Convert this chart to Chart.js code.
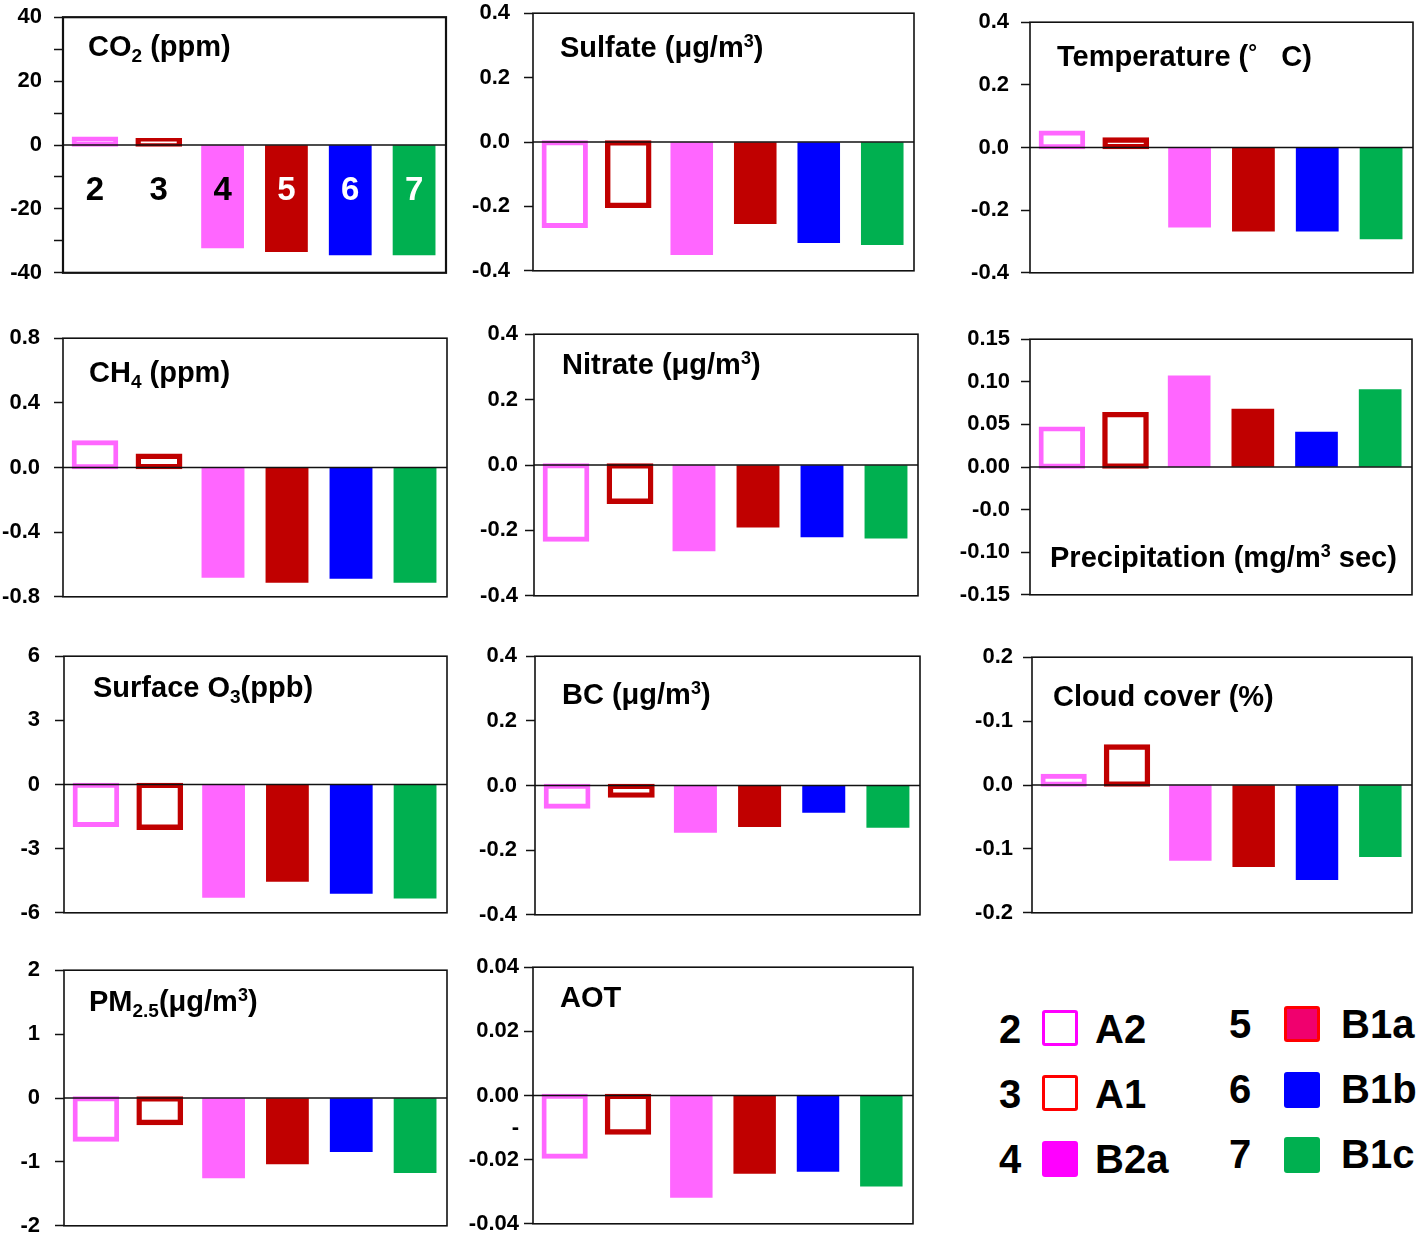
<!DOCTYPE html>
<html><head><meta charset="utf-8">
<script src="https://cdn.jsdelivr.net/npm/chart.js@4"></script>
<style>
html,body{margin:0;padding:0;background:#fff;}
body{width:1418px;height:1236px;position:relative;overflow:hidden;font-family:'Liberation Sans',Arial,sans-serif;}
canvas{position:absolute;}
.title{position:absolute;font-weight:bold;font-size:29px;line-height:29px;white-space:pre;color:#000;}
.title sub{font-size:19px;vertical-align:-6px;line-height:0;}
.title sup{font-size:18px;vertical-align:10px;line-height:0;}
.leg{position:absolute;font-weight:bold;font-size:40px;line-height:40px;color:#000;}
.lbox{position:absolute;box-sizing:border-box;border-radius:3px;}
</style></head><body>
<script>
// ---------- data ----------
const categories = ['A2','A1','B2a','B1a','B1b','B1c'];
const scenarioNumbers = ['2','3','4','5','6','7'];

const co2Values         = [2.0, 1.5, -32.2, -33.4, -34.4, -34.4];
const sulfateValues     = [-0.26, -0.198, -0.35, -0.254, -0.313, -0.319];
const temperatureValues = [0.047, 0.025, -0.254, -0.267, -0.267, -0.292];
const ch4Values         = [0.155, 0.072, -0.68, -0.711, -0.686, -0.711];
const nitrateValues     = [-0.228, -0.112, -0.263, -0.19, -0.22, -0.224];
const precipValues      = [0.045, 0.062, 0.107, 0.068, 0.041, 0.091];
const o3Values          = [-1.88, -2.02, -5.28, -4.53, -5.09, -5.32];
const bcValues          = [-0.065, -0.031, -0.145, -0.127, -0.083, -0.13];
const cloudValues       = [0.014, 0.06, -0.118, -0.128, -0.148, -0.112];
const pm25Values        = [-0.65, -0.39, -1.25, -1.03, -0.84, -1.17];
const aotValues         = [-0.019, -0.0115, -0.0318, -0.0243, -0.0237, -0.0283];

// tick values and labels (as printed in the figure)
const co2Ticks      = [40, 30, 20, 10, 0, -10, -20, -30, -40];
const co2TickLabels = ['40', '', '20', '', '0', '', '-20', '', '-40'];
const sulfateTicks      = [0.4, 0.2, 0, -0.2, -0.4];
const sulfateTickLabels = ['0.4', '0.2', '0.0', '-0.2', '-0.4'];
const temperatureTicks      = [0.4, 0.2, 0, -0.2, -0.4];
const temperatureTickLabels = ['0.4', '0.2', '0.0', '-0.2', '-0.4'];
const ch4Ticks      = [0.8, 0.4, 0, -0.4, -0.8];
const ch4TickLabels = ['0.8', '0.4', '0.0', '-0.4', '-0.8'];
const nitrateTicks      = [0.4, 0.2, 0, -0.2, -0.4];
const nitrateTickLabels = ['0.4', '0.2', '0.0', '-0.2', '-0.4'];
const precipTicks      = [0.15, 0.10, 0.05, 0, -0.05, -0.10, -0.15];
const precipTickLabels = ['0.15', '0.10', '0.05', '0.00', '-0.0', '-0.10', '-0.15'];
const o3Ticks      = [6, 3, 0, -3, -6];
const o3TickLabels = ['6', '3', '0', '-3', '-6'];
const bcTicks      = [0.4, 0.2, 0, -0.2, -0.4];
const bcTickLabels = ['0.4', '0.2', '0.0', '-0.2', '-0.4'];
const cloudTicks      = [0.2, 0.1, 0, -0.1, -0.2];
const cloudTickLabels = ['0.2', '-0.1', '0.0', '-0.1', '-0.2'];
const pm25Ticks      = [2, 1, 0, -1, -2];
const pm25TickLabels = ['2', '1', '0', '-1', '-2'];
const aotTicks      = [0.04, 0.02, 0, -0.01, -0.02, -0.04];
const aotTickLabels = ['0.04', '0.02', '0.00', '-', '-0.02', '-0.04'];

const legendNumbers = ['2','3','4','5','6','7'];
const legendNames   = ['A2','A1','B2a','B1a','B1b','B1c'];

// ---------- styles ----------
const barFill   = ['rgba(0,0,0,0)', 'rgba(0,0,0,0)', '#FF66FF', '#C00000', '#0000FF', '#00B050'];
const barBorder = ['#FF66FF', '#C00000', '#FF66FF', '#C00000', '#0000FF', '#00B050'];
const barBorderW = [0.5, 0.8, 0, 0, 0, 0];
const barInflate = [2.2, 2.3, 0.33, 0.33, 0.33, 0.33];
const numberColors = ['#000', '#000', '#000', '#fff', '#fff', '#fff'];
const AXW = 84;

const panels = [
  {values: co2Values, ticks: co2Ticks, labels: co2TickLabels, min: -40, max: 40, box: [63, 17, 446, 273], gap: 21, frame: 2.2, minor: true, numbers: true,
   title: 'CO<sub>2</sub> (ppm)', tpos: [88, 32]},
  {values: sulfateValues, ticks: sulfateTicks, labels: sulfateTickLabels, min: -0.4, max: 0.4, box: [533, 13, 914, 271], gap: 23,
   title: 'Sulfate (\u03BCg/m<sup>3</sup>)', tpos: [560, 33]},
  {values: temperatureValues, ticks: temperatureTicks, labels: temperatureTickLabels, min: -0.4, max: 0.4, box: [1030, 22, 1413, 273], gap: 21,
   title: 'Temperature (<span style="font-size:22px;vertical-align:6px;">\u00B0</span>   C)', tpos: [1057, 38]},
  {values: ch4Values, ticks: ch4Ticks, labels: ch4TickLabels, min: -0.8, max: 0.8, box: [63, 338, 447, 597], gap: 23,
   title: 'CH<sub>4</sub> (ppm)', tpos: [89, 358]},
  {values: nitrateValues, ticks: nitrateTicks, labels: nitrateTickLabels, min: -0.4, max: 0.4, box: [534, 334, 918, 596], gap: 16,
   title: 'Nitrate (\u03BCg/m<sup>3</sup>)', tpos: [562, 350]},
  {values: precipValues, ticks: precipTicks, labels: precipTickLabels, min: -0.15, max: 0.15, box: [1030, 339, 1412, 595], gap: 20,
   title: 'Precipitation (mg/m<sup>3</sup> sec)', tpos: [1050, 543]},
  {values: o3Values, ticks: o3Ticks, labels: o3TickLabels, min: -6, max: 6, box: [64, 656, 447, 913], gap: 24,
   title: 'Surface O<sub>3</sub>(ppb)', tpos: [93, 673]},
  {values: bcValues, ticks: bcTicks, labels: bcTickLabels, min: -0.4, max: 0.4, box: [535, 656, 920, 915], gap: 18,
   title: 'BC (\u03BCg/m<sup>3</sup>)', tpos: [562, 680]},
  {values: cloudValues, ticks: cloudTicks, labels: cloudTickLabels, min: -0.2, max: 0.2, box: [1032, 657, 1412, 913], gap: 19,
   title: 'Cloud cover (%)', tpos: [1053, 682]},
  {values: pm25Values, ticks: pm25Ticks, labels: pm25TickLabels, min: -2, max: 2, box: [64, 970, 447, 1226], gap: 24,
   title: 'PM<sub>2.5</sub>(\u03BCg/m<sup>3</sup>)', tpos: [89, 987]},
  {values: aotValues, ticks: aotTicks, labels: aotTickLabels, min: -0.04, max: 0.04, box: [533, 967, 913, 1224], gap: 14,
   title: 'AOT', tpos: [560, 983]}
];

const framePlugin = {
  id: 'frame',
  afterDatasetsDraw(chart, args, opts) {
    const {ctx, chartArea: a, scales: {x, y}} = chart;
    ctx.save();
    ctx.strokeStyle = '#111';
    ctx.lineWidth = 1.6;
    const y0 = y.getPixelForValue(0);
    ctx.beginPath(); ctx.moveTo(a.left, y0); ctx.lineTo(a.right, y0); ctx.stroke();
    ctx.lineWidth = opts.width || 1.6;
    ctx.strokeRect(a.left, a.top, a.width, a.height);
    if (opts.numbers) {
      ctx.font = 'bold 33px "Liberation Sans", Arial, sans-serif';
      ctx.textAlign = 'center'; ctx.textBaseline = 'middle';
      scenarioNumbers.forEach((n, i) => {
        ctx.fillStyle = numberColors[i];
        ctx.fillText(n, x.getPixelForValue(i), y.getPixelForValue(opts.numberLevel));
      });
    }
    ctx.restore();
  }
};

panels.forEach(p => {
  const [l, t, r, b] = p.box;
  const cv = document.createElement('canvas');
  const w = r - l + AXW + 4, h = b - t + 40;
  cv.width = w; cv.height = h;
  cv.style.left = (l - AXW) + 'px'; cv.style.top = (t - 20) + 'px';
  cv.style.width = w + 'px'; cv.style.height = h + 'px';
  document.body.appendChild(cv);

  const labelMap = new Map(p.ticks.map((v, i) => [v.toFixed(5), p.labels[i]]));
  const lab = v => labelMap.has(Number(v).toFixed(5)) ? labelMap.get(Number(v).toFixed(5)) : '';

  const chart = new Chart(cv, {
    type: 'bar',
    data: {labels: categories, datasets: [{
      data: p.values, backgroundColor: barFill, borderColor: barBorder, borderWidth: barBorderW,
      inflateAmount: barInflate,
      borderSkipped: false, barPercentage: 0.66, categoryPercentage: 1
    }]},
    options: {
      responsive: false, maintainAspectRatio: false, animation: false, devicePixelRatio: 1,
      layout: {padding: {top: 0, bottom: 0, left: 0, right: 4}},
      plugins: {legend: {display: false}, tooltip: {enabled: false},
        frame: {width: p.frame || 1.6, numbers: !!p.numbers, numberLevel: -14.5}},
      scales: {
        x: {display: false},
        y: {
          min: p.min, max: p.max,
          afterFit(s) { s.width = AXW; },
          afterBuildTicks(s) { s.ticks = p.ticks.slice().sort((a, b) => a - b).map(v => ({value: v})); },
          ticks: {autoSkip: false, callback: v => lab(v), color: '#000', padding: p.gap - 9,
                  font: {family: '"Liberation Sans", Arial, sans-serif', weight: 'bold', size: 22}},
          grid: {drawOnChartArea: false, drawTicks: true, tickLength: 9, tickWidth: 1.5,
                 tickColor: ctx => {
                   const L = lab(ctx.tick ? ctx.tick.value : 0);
                   if (L === '-') return 'rgba(0,0,0,0)';
                   if (L === '' && !p.minor) return 'rgba(0,0,0,0)';
                   return '#111';
                 }},
          border: {display: false}
        }
      }
    },
    plugins: [framePlugin]
  });

  // align the chart area exactly with the panel box
  const ca = chart.chartArea;
  const topOff = ca.top, botOff = h - ca.bottom;
  const newH = Math.round((b - t) + topOff + botOff);
  chart.resize(w, newH);
  const ca2 = chart.chartArea;
  cv.style.top = (t - ca2.top) + 'px';
  cv.style.left = (l - ca2.left) + 'px';

  const d = document.createElement('div');
  d.className = 'title';
  d.innerHTML = p.title;
  d.style.left = p.tpos[0] + 'px'; d.style.top = p.tpos[1] + 'px';
  document.body.appendChild(d);
});

// ---------- legend ----------
const legendLayout = [
  {num: [999, 1009], box: [1042, 1010], name: [1095, 1009], style: 'border:3.5px solid #FF00FF;background:#fff;'},
  {num: [999, 1074], box: [1042, 1075], name: [1095, 1074], style: 'border:3.5px solid #FF0000;background:#fff;'},
  {num: [999, 1139], box: [1042, 1141], name: [1095, 1139], style: 'background:#FF00FF;'},
  {num: [1229, 1004], box: [1284, 1006], name: [1341, 1004], style: 'border:3.5px solid #FF0000;background:#F0006E;'},
  {num: [1229, 1069], box: [1284, 1072], name: [1341, 1069], style: 'background:#0000FF;'},
  {num: [1229, 1134], box: [1284, 1137], name: [1341, 1134], style: 'background:#00B050;'}
];
legendLayout.forEach((g, i) => {
  const n = document.createElement('div');
  n.className = 'leg'; n.textContent = legendNumbers[i];
  n.style.left = g.num[0] + 'px'; n.style.top = g.num[1] + 'px';
  document.body.appendChild(n);
  const bx = document.createElement('div');
  bx.className = 'lbox';
  bx.style.cssText += g.style + 'left:' + g.box[0] + 'px;top:' + g.box[1] + 'px;width:36px;height:36px;';
  document.body.appendChild(bx);
  const t = document.createElement('div');
  t.className = 'leg'; t.textContent = legendNames[i];
  t.style.left = g.name[0] + 'px'; t.style.top = g.name[1] + 'px';
  document.body.appendChild(t);
});
</script>
</body></html>
